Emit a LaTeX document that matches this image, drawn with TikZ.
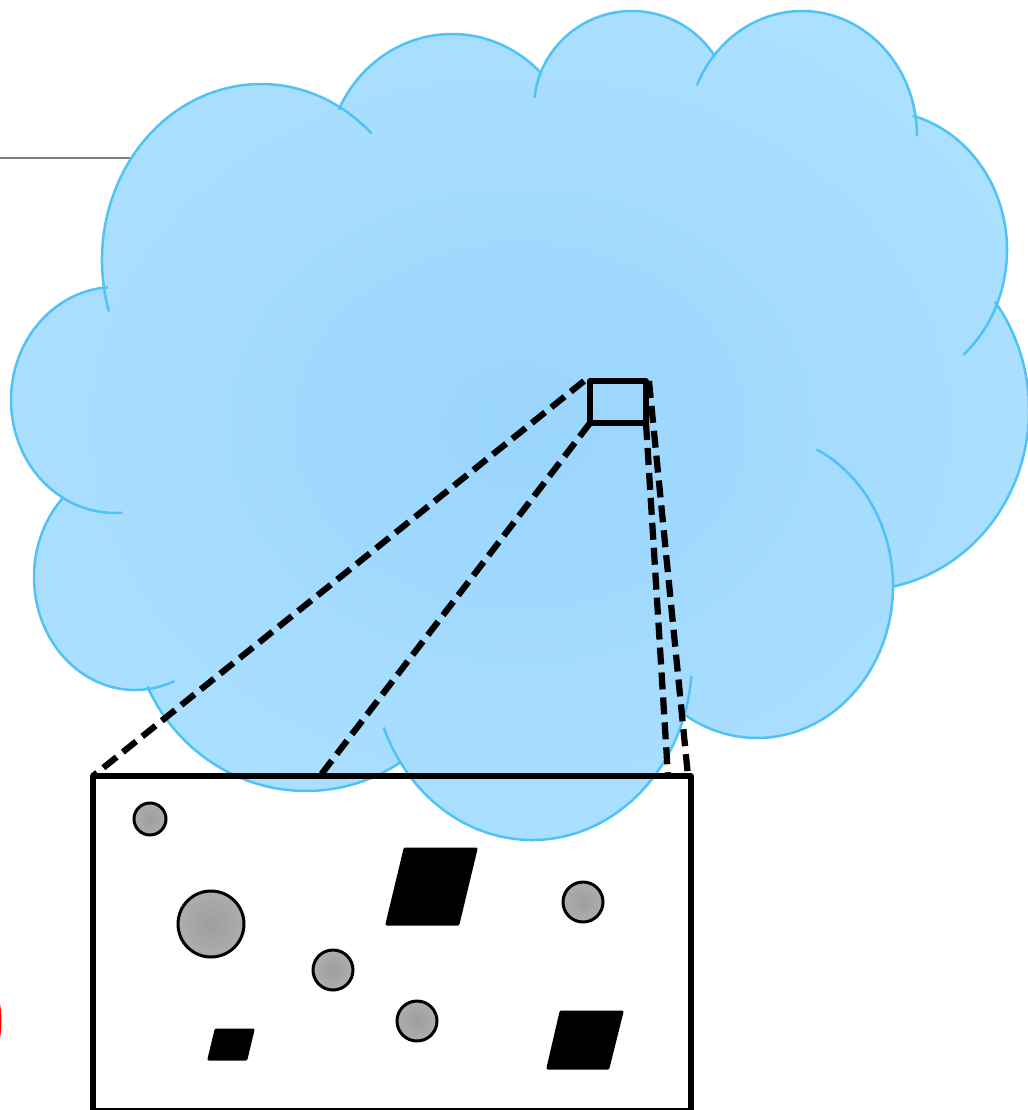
\documentclass[tikz,border=0pt]{standalone}
\usepackage{tikz}
\definecolor{cloudin}{HTML}{9AD5FD}
\definecolor{cloudout}{HTML}{AEE1FF}
\definecolor{cloudline}{HTML}{4FC3F7}
\definecolor{grainin}{HTML}{9E9E9E}
\definecolor{grainout}{HTML}{ADADAD}
\pgfdeclareradialshading{cloudglow}{\pgfpoint{0bp}{0bp}}{color(0bp)=(cloudin); color(30bp)=(cloudout); color(50bp)=(cloudout)}
\pgfdeclareradialshading{grainglow}{\pgfpoint{0bp}{0bp}}{color(0bp)=(grainin); color(25bp)=(grainout); color(50bp)=(grainout)}
\begin{document}
\begin{tikzpicture}[
    x=0.02cm, y=-0.02cm,
    lobeline/.style={draw=cloudline, line width=0.05cm},
    frame/.style={draw, line width=0.115cm, line join=round, inner sep=0pt, outer sep=0pt},
    zoomray/.style={line width=0.125cm, dash pattern=on 0.34cm off 0.16cm},
    grain/.style={circle, draw, line width=0.06cm, inner sep=0pt, outer sep=0pt, shading=grainglow},
    chip/.style={fill=black, draw=black, line width=0.06cm, line join=round}
]
\useasboundingbox (0,0) rectangle (1028,1110);
\clip (0,0) rectangle (1028,1110);
% --- Rule and red mark at the margins ---
\coordinate (ruleleft) at (0,158);
\coordinate (ruleright) at (135,158);
\draw[gray, line width=0.025cm] (ruleleft) -- (ruleright);
\draw[red, line width=0.06cm] (-20,1021) ellipse (20 and 45);
% --- Cloud body ---
\shade[shading=cloudglow] (520,420) ellipse [x radius=330, y radius=300]
    \foreach \cx/\cy/\rx/\ry in {261/260/159/176, 452/165/125/131, 632/108/98/97,
        802/136/115/125, 880/250/127/139, 860/410/169/180, 757/586/136/152,
        532/660/160/180, 306/610/175/181, 135/577/101/113, 115/400/104/113} {
        (\cx,\cy) ellipse [x radius=\rx, y radius=\ry]
    };
% --- Cloud outline, one arc per lobe ---
\foreach \cx/\cy/\rx/\ry/\from/\to in {261/260/159/176/163/314, 452/165/125/131/205/315,
    632/108/98/97/186/328, 802/136/115/125/204/360, 880/250/127/139/285/409,
    860/410/169/180/323/439, 757/586/136/152/296/483, 532/660/160/180/5/158,
    306/610/175/181/57/155, 135/577/101/113/224/67, 115/400/104/113/266/86} {
    \draw[lobeline] (\cx,\cy) ++(\from:{\rx} and {\ry})
        arc[start angle=\from, end angle=\to, x radius=\rx, y radius=\ry];
}
% --- Frames ---
\node[frame, minimum width=1.12cm, minimum height=0.84cm] (sourcebox) at (618,402) {};
\node[frame, minimum width=11.96cm, minimum height=6.7cm] (inset) at (392,943.5) {};
% --- Dashed rays from the small frame down to the inset ---
\coordinate (rayone) at ([xshift=-0.12cm]sourcebox.north west);
\coordinate (raytwo) at (320,776);
\coordinate (raythree) at (668,776);
\coordinate (rayfour) at ([xshift=0.06cm]sourcebox.north east);
\coordinate (rayfourend) at (688,776);
\draw[zoomray] (rayone) -- (inset.north west);
\draw[zoomray] (sourcebox.south west) -- (raytwo);
\draw[zoomray] (sourcebox.south east) -- (raythree);
\draw[zoomray] (rayfour) -- (rayfourend);
% --- Round grains ---
\foreach \i/\x/\y/\d in {1/150/819/0.64, 2/211/924/1.32, 3/333/970/0.8, 4/417/1021/0.8, 5/583/902/0.8} {
    \node[grain, minimum size=\d cm] (grain\i) at (\x,\y) {};
}
% --- Black chips ---
\draw[chip] (405,849) -- (476,849) -- (458,924) -- (387,924) -- cycle;
\draw[chip] (216,1030) -- (253,1030) -- (246,1059) -- (209,1059) -- cycle;
\draw[chip] (561,1012) -- (622,1012) -- (608,1068) -- (548,1068) -- cycle;
\end{tikzpicture}
\end{document}
